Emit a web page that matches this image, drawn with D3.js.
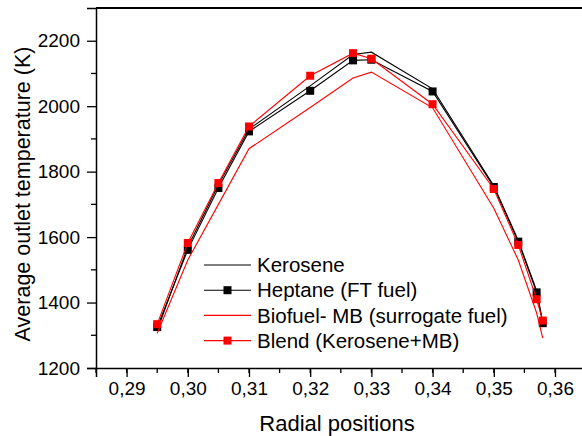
<!DOCTYPE html>
<html>
<head>
<meta charset="utf-8">
<script src="https://cdn.jsdelivr.net/npm/d3@7"></script>
<style>
  body { margin: 0; background: #fff; }
  text { font-family: "Liberation Sans", Arial, sans-serif; fill: #000; }
</style>
</head>
<body>
<script>
var positions = [0.295, 0.300, 0.305, 0.310, 0.320, 0.327, 0.330, 0.340, 0.350, 0.354, 0.357, 0.358];
var kerosene  = [1315, 1570, 1760, 1930, 2062, 2158, 2165, 2053, 1757, 1590, 1436, 1340];
var heptane   = [1325, 1561, 1750, 1923, 2047, 2140, 2142, 2045, 1753, 1586, 1431, 1337];
var biofuel   = [1306, 1530, 1700, 1870, 1996, 2086, 2104, 1995, 1688, 1530, 1368, 1291];
var blend     = [1334, 1582, 1765, 1938, 2093, 2162, 2145, 2006, 1747, 1576, 1410, 1345];
var seriesNames = ["Kerosene", "Heptane (FT fuel)", "Biofuel- MB (surrogate fuel)", "Blend (Kerosene+MB)"];
var xTicks = [0.29, 0.30, 0.31, 0.32, 0.33, 0.34, 0.35, 0.36];
var yTicks = [1200, 1400, 1600, 1800, 2000, 2200];

function init(){
    var w = 582, h = 436;
    var left = 96, top = 8, bottom = 368;

    var xScale = d3.scaleLinear().domain([0.285, 0.365]).range([left, 585.6]);
    var yScale = d3.scaleLinear().domain([1200, 2300]).range([bottom, top]);

    var svg = d3.select("body").append("svg")
                .attr("width", w).attr("height", h);

    var series = [
        { name: seriesNames[0], values: kerosene, color: "#000", marker: false },
        { name: seriesNames[1], values: heptane,  color: "#000", marker: true },
        { name: seriesNames[2], values: biofuel,  color: "#ff0000", marker: false },
        { name: seriesNames[3], values: blend,    color: "#ff0000", marker: true }
    ];

    // minor ticks
    var xMinor = d3.range(0.285, 0.3651, 0.005);
    var yMinor = d3.range(1300, 2300, 200);

    // x axis
    var xAxis = d3.axisBottom(xScale).tickValues(xTicks).tickSize(9).tickPadding(5)
                  .tickFormat(function(d){ return d3.format(".2f")(d).replace(".", ","); });
    var gx = svg.append("g").attr("transform", "translate(0," + bottom + ")").call(xAxis);
    gx.select(".domain").attr("stroke-width", 1.5);
    gx.selectAll(".tick line").attr("stroke-width", 1.3);
    gx.selectAll("text").style("font-size", "19px");
    svg.append("g").selectAll("line").data(xMinor).enter().append("line")
       .attr("x1", function(d){ return xScale(d); }).attr("x2", function(d){ return xScale(d); })
       .attr("y1", bottom).attr("y2", bottom + 5)
       .attr("stroke", "#000").attr("stroke-width", 1.3);

    // y axis
    var yAxis = d3.axisLeft(yScale).tickValues(yTicks).tickSize(9).tickPadding(7)
                  .tickFormat(d3.format("d"));
    var gy = svg.append("g").attr("transform", "translate(" + left + ",0)").call(yAxis);
    gy.select(".domain").attr("stroke-width", 1.5);
    gy.selectAll(".tick line").attr("stroke-width", 1.3);
    gy.selectAll("text").style("font-size", "19px");
    svg.append("g").selectAll("line").data(yMinor).enter().append("line")
       .attr("x1", left - 5).attr("x2", left)
       .attr("y1", function(d){ return yScale(d); }).attr("y2", function(d){ return yScale(d); })
       .attr("stroke", "#000").attr("stroke-width", 1.3);

    // top frame
    svg.append("line").attr("x1", left).attr("x2", w).attr("y1", top).attr("y2", top)
       .attr("stroke", "#000").attr("stroke-width", 2);

    var line = d3.line()
                 .x(function(d, i){ return xScale(positions[i]); })
                 .y(function(d){ return yScale(d); });

    series.forEach(function(s){
        svg.append("path").datum(s.values)
           .attr("d", line).attr("fill", "none")
           .attr("stroke", s.color).attr("stroke-width", 1.1);
        if (s.marker) {
            svg.append("g").selectAll("rect").data(s.values).enter().append("rect")
               .attr("x", function(d, i){ return xScale(positions[i]) - 4; })
               .attr("y", function(d){ return yScale(d) - 4; })
               .attr("width", 8).attr("height", 8)
               .attr("fill", s.color);
        }
    });

    // legend
    var lg = svg.append("g");
    series.forEach(function(s, i){
        var y = 265 + i * 25.2;
        lg.append("line").attr("x1", 204).attr("x2", 251).attr("y1", y).attr("y2", y)
          .attr("stroke", s.color).attr("stroke-width", 1.1);
        if (s.marker) {
            lg.append("rect").attr("x", 223.5).attr("y", y - 4).attr("width", 8).attr("height", 8)
              .attr("fill", s.color);
        }
        lg.append("text").attr("x", 257).attr("y", y).attr("dy", "0.35em")
          .style("font-size", "20.5px").text(s.name);
    });

    // axis titles
    svg.append("text").attr("x", 337).attr("y", 431).attr("text-anchor", "middle")
       .style("font-size", "22px").text("Radial positions");
    svg.append("text").attr("transform", "translate(22,194) rotate(-90)")
       .attr("text-anchor", "middle").attr("dy", "0.35em")
       .style("font-size", "21.5px").text("Average outlet  temperature (K)");
}
window.onload = init;
</script>
</body>
</html>
